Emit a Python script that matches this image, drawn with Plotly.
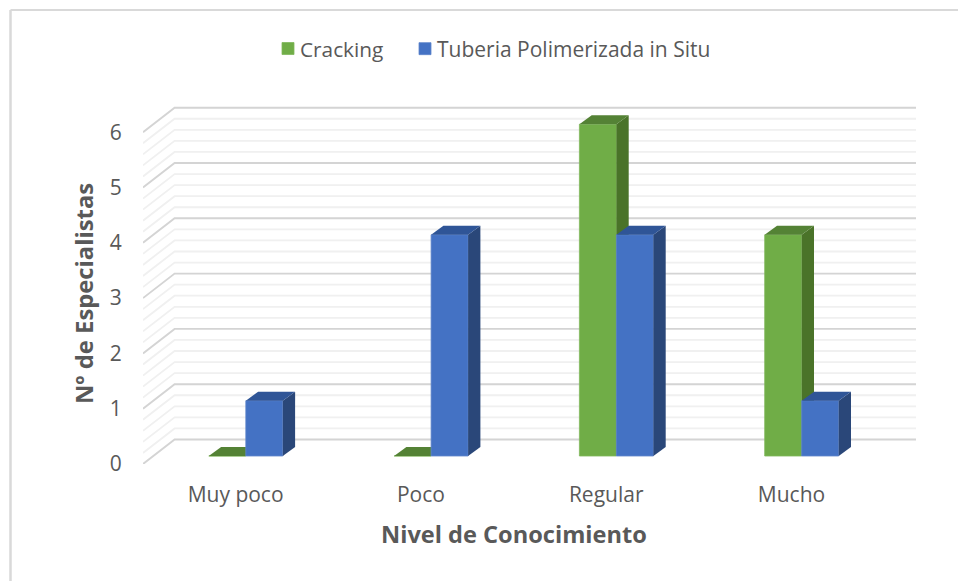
import plotly.graph_objects as go

# ---- data ----
categories = ["Muy poco", "Poco", "Regular", "Mucho"]
cracking = [0, 0, 6, 4]
tuberia = [1, 4, 4, 1]
y_ticks = [0, 1, 2, 3, 4, 5, 6]
name_a = "Cracking"
name_b = "Tuberia Polimerizada in Situ"
x_title = "Nivel de Conocimiento"
y_title = "Nº de Especialistas"

# ---- layout constants (pixels) ----
W, H = 958, 581
L, R, T, B = 143, 916, 106, 464          # plot box
PX_X, PX_Y = 185.3, 55.3                 # pixels per category / per unit
XMIN = -92.6 / PX_X
XMAX = XMIN + (R - L) / PX_X
YMAX = (B - T) / PX_Y

ux = lambda px: px / PX_X
uy = lambda px: px / PX_Y

WALL = (ux(31.6), uy(24.5))              # side wall depth
PLANE = (ux(10.2), uy(8.0))              # front plane of the bars
DEPTH = (ux(12.3), uy(9.0))              # depth of one bar
BW = ux(37.0)

C_A, C_A_TOP, C_A_SIDE, C_A_EDGE = "#70AD47", "#548235", "#4A7329", "#80B75C"
C_B, C_B_TOP, C_B_SIDE, C_B_EDGE = "#4472C4", "#2F5597", "#2A4779", "#5F86CC"
MAJOR, MINOR = "#D4D4D4", "#F0F0F0"
TXT = "#595959"
FONT = "Open Sans"

fig = go.Figure()


def grid(levels, color, width):
    xs, ys = [], []
    for v in levels:
        xs += [XMIN, XMIN + WALL[0], XMAX, None]
        ys += [v, v + WALL[1], v + WALL[1], None]
    fig.add_trace(go.Scatter(x=xs, y=ys, mode="lines", showlegend=False, hoverinfo="skip",
                             line=dict(color=color, width=width)))


minor_levels = [t + k / 5 for t in y_ticks[:-1] for k in range(1, 5)]
grid(minor_levels, MINOR, 1.8)
grid(y_ticks, MAJOR, 1.9)


def series(values, name, sign, front, top, side, edge, xa, ya, legend):
    lefts = [i + PLANE[0] + (0 if sign > 0 else -BW) for i in range(len(values))]
    fig.add_trace(go.Bar(
        x=[l + BW / 2 for l in lefts], y=values, base=PLANE[1], width=BW, name=name,
        marker=dict(color=front, line=dict(color=edge, width=0.8)), xaxis=xa, yaxis=ya,
        hoverinfo="skip", legend=legend))
    for l, v in zip(lefts, values):
        b = PLANE[1]
        r = l + BW
        t = b + v
        if v > 0:
            fig.add_trace(go.Scatter(
                x=[r, r + DEPTH[0], r + DEPTH[0], r, r],
                y=[b, b + DEPTH[1], t + DEPTH[1], t, b],
                fill="toself", fillcolor=side, mode="none", showlegend=False,
                hoverinfo="skip", xaxis=xa, yaxis=ya))
        fig.add_trace(go.Scatter(
            x=[l, r, r + DEPTH[0], l + DEPTH[0], l],
            y=[t, t, t + DEPTH[1], t + DEPTH[1], t],
            fill="toself", fillcolor=top, mode="none", showlegend=False,
            hoverinfo="skip", xaxis=xa, yaxis=ya))


series(cracking, name_a, -1, C_A, C_A_TOP, C_A_SIDE, C_A_EDGE, "x2", "y2", "legend")
series(tuberia, name_b, 1, C_B, C_B_TOP, C_B_SIDE, C_B_EDGE, "x3", "y3", "legend2")

dom_x = [L / W, R / W]
dom_y = [1 - B / H, 1 - T / H]
over_x = dict(domain=dom_x, range=[XMIN, XMAX], overlaying="x", visible=False)
over_y = dict(domain=dom_y, range=[0, YMAX], overlaying="y", visible=False)
legend_style = dict(orientation="h", y=1 - 49 / H, xanchor="left", yanchor="middle",
                    bgcolor="rgba(0,0,0,0)", itemwidth=30)

fig.update_layout(
    width=W, height=H, margin=dict(l=0, r=0, t=0, b=0, autoexpand=False),
    paper_bgcolor="white", plot_bgcolor="white",
    font=dict(family=FONT, color=TXT),
    barmode="overlay",
    xaxis=dict(domain=dom_x, range=[XMIN, XMAX], tickmode="array", tickvals=list(range(len(categories))),
               ticktext=categories, showgrid=False, zeroline=False, showline=False,
               ticks="outside", ticklen=12, tickcolor="rgba(0,0,0,0)",
               tickfont=dict(size=21, color=TXT)),
    yaxis=dict(domain=dom_y, range=[0, YMAX], tickmode="array", tickvals=y_ticks,
               showgrid=False, zeroline=False, showline=False,
               ticks="outside", ticklen=16, tickcolor="rgba(0,0,0,0)",
               tickfont=dict(size=21, color=TXT)),
    xaxis2=dict(over_x, anchor="y2"),
    yaxis2=dict(over_y, anchor="x2"),
    xaxis3=dict(over_x, anchor="y3"),
    yaxis3=dict(over_y, anchor="x3"),
    legend=dict(legend_style, x=(282 - 14) / W, font=dict(size=20.8, color=TXT)),
    legend2=dict(legend_style, x=(419 - 14) / W, font=dict(size=21, color=TXT)),
    showlegend=True,
    annotations=[
        dict(text=f"<b>{x_title}</b>", xref="paper", yref="paper", x=513.5 / W, y=1 - 534 / H,
             showarrow=False, xanchor="center", yanchor="middle", font=dict(size=23.6, color=TXT)),
        dict(text=f"<b>{y_title}</b>", xref="paper", yref="paper", x=84 / W, y=1 - 294 / H,
             textangle=-90, showarrow=False, xanchor="center", yanchor="middle",
             font=dict(size=23.8, color=TXT)),
    ],
    shapes=[
        dict(type="line", xref="paper", yref="paper",
             x0=10.5 / W, x1=10.5 / W, y0=0, y1=1 - 10 / H,
             line=dict(color="#D9D9D9", width=2.5)),
        dict(type="line", xref="paper", yref="paper",
             x0=10.5 / W, x1=1, y0=1 - 10 / H, y1=1 - 10 / H,
             line=dict(color="#D9D9D9", width=2)),
    ],
)

# remove the page margin and tighten the gap between legend swatch and text
post = """
document.body.style.margin = '0';
var s = document.createElement('style');
s.textContent = '.legendtext, .legend2text { transform: translateX(-8px); }';
document.head.appendChild(s);
"""
fig.write_html("out.html", post_script=post, config=dict(displayModeBar=False))
